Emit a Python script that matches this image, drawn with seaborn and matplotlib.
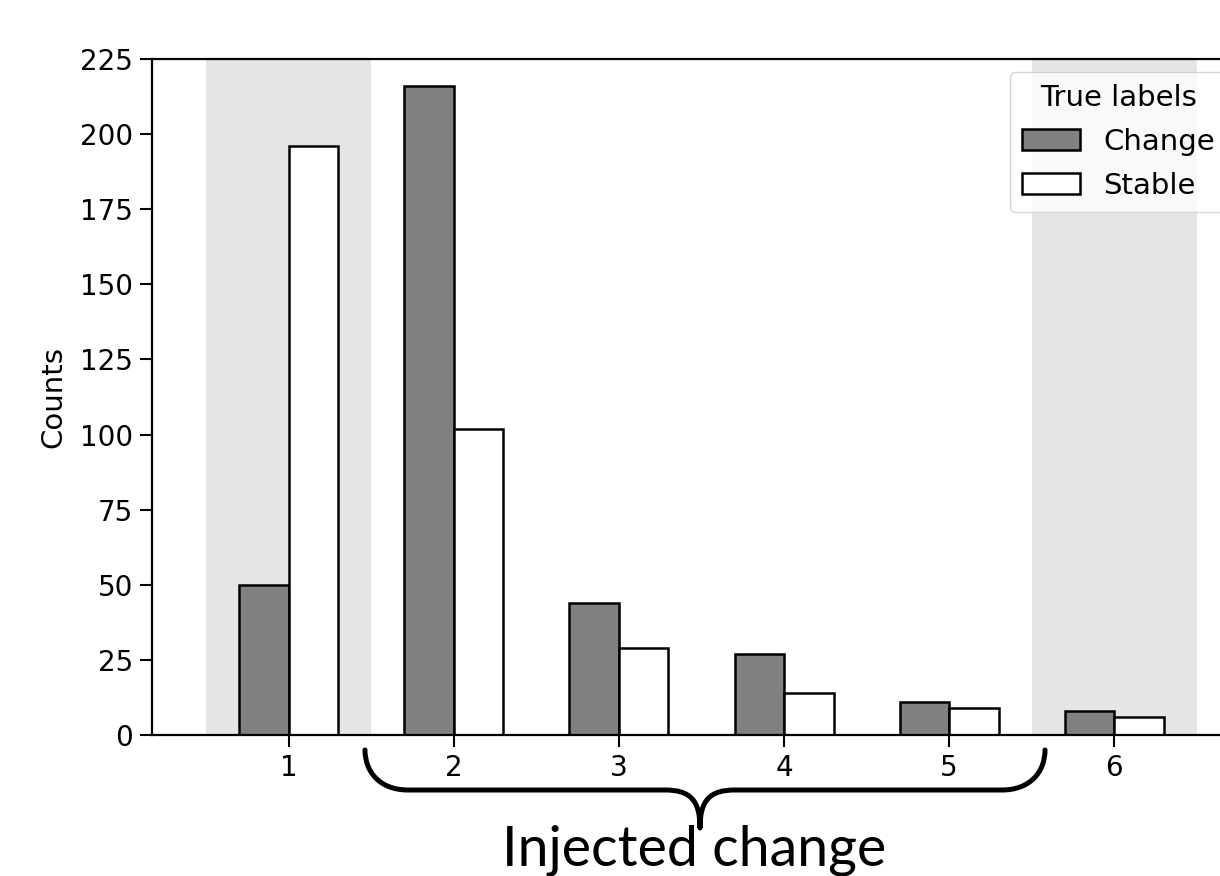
import pandas as pd
import matplotlib
matplotlib.use('Agg')
import matplotlib.pyplot as plt
import seaborn as sns
from matplotlib.path import Path
from matplotlib.patches import PathPatch

# values
groups = ['1', '2', '3', '4', '5', '6']
change = [50, 216, 44, 27, 11, 8]
stable = [196, 102, 29, 14, 9, 6]
yticks = [0, 25, 50, 75, 100, 125, 150, 175, 200, 225]

df = pd.DataFrame({
    'group': groups * 2,
    'count': change + stable,
    'label': ['Change'] * len(groups) + ['Stable'] * len(groups),
})

sns.set_style('ticks')
plt.rcParams['font.family'] = ['DejaVu Sans']
plt.rcParams['text.color'] = 'black'
plt.rcParams['axes.labelcolor'] = 'black'
plt.rcParams['xtick.color'] = 'black'
plt.rcParams['ytick.color'] = 'black'

W, H = 1220, 876
fig = plt.figure(figsize=(W / 100, H / 100), dpi=100)
ax = fig.add_axes([152 / W, 1 - 735 / H, (1251 - 152) / W, (735 - 59) / H])

# shaded "no change" regions
ax.axvspan(-0.5, 0.5, color='#e5e5e5', zorder=0, lw=0)
ax.axvspan(4.5, 5.5, color='#e5e5e5', zorder=0, lw=0)

sns.barplot(data=df, x='group', y='count', hue='label',
            palette={'Change': '#808080', 'Stable': 'white'},
            edgecolor='black', linewidth=1.8, width=0.6, saturation=1,
            ax=ax, zorder=2)

ax.set_xlim(-0.83, 5.83)
ax.set_ylim(0, 225)
ax.set_yticks(yticks)
ax.set_xlabel('')
ax.set_ylabel('Counts', fontsize=21, labelpad=9)
ax.tick_params(labelsize=20, length=8.6, width=1.5, pad=5)
for s in ax.spines.values():
    s.set_linewidth(1.6)
    s.set_color('black')
    s.set_visible(True)

sns.move_legend(ax, 'upper right', bbox_to_anchor=(0.99, 1.0),
                title='True labels', fontsize=21,
                title_fontsize=21, frameon=True, framealpha=0.8,
                edgecolor='#cccccc', fancybox=True, borderaxespad=0.45,
                labelspacing=0.55)

# curly brace under groups 2-5
def px(x, y):
    return (x / W, 1 - y / H)

verts = [px(365, 750), px(365, 772), px(380, 790), px(408, 790),
         px(665, 790),
         px(690, 790), px(700, 800), px(700, 828),
         px(700, 800), px(710, 790), px(735, 790),
         px(1002, 790),
         px(1030, 790), px(1045, 772), px(1045, 750)]
codes = [Path.MOVETO, Path.CURVE4, Path.CURVE4, Path.CURVE4,
         Path.LINETO,
         Path.CURVE4, Path.CURVE4, Path.CURVE4,
         Path.CURVE4, Path.CURVE4, Path.CURVE4,
         Path.LINETO,
         Path.CURVE4, Path.CURVE4, Path.CURVE4]
brace = PathPatch(Path(verts, codes), transform=fig.transFigure,
                  facecolor='none', edgecolor='black', lw=3.6,
                  capstyle='round', joinstyle='round')
fig.patches.append(brace)

fig.text(694 / W, 1 - 866 / H, 'Injected change', ha='center', va='baseline',
         fontsize=40, color='black', family=['Lato', 'DejaVu Sans'])

fig.savefig('out.png', dpi=100)
